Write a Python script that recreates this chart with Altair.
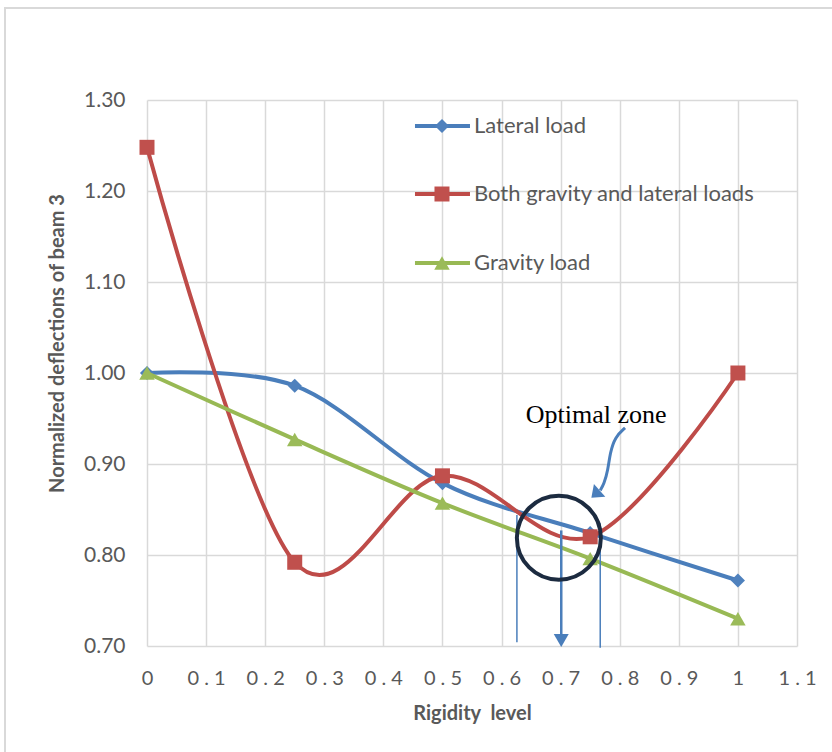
import altair as alt
import pandas as pd

# ---- data ----
rigidity = [0, 0.25, 0.5, 0.75, 1.0]
lateral = [1.000, 0.986, 0.879, 0.824, 0.772]
both = [1.248, 0.792, 0.887, 0.820, 1.000]
gravity = [1.000, 0.927, 0.857, 0.796, 0.730]
series_names = ["Lateral load", "Both gravity and lateral loads", "Gravity load"]

x_ticks = [0, 0.1, 0.2, 0.3, 0.4, 0.5, 0.6, 0.7, 0.8, 0.9, 1.0, 1.1]
y_ticks = [0.7, 0.8, 0.9, 1.0, 1.1, 1.2, 1.3]

# annotation anchors (data coordinates)
zone_label = ["Optimal zone"]
zone_label_xy = [0.760, 0.954]
zone_circle_xy = [0.697, 0.819]
zone_bounds_x = [0.626, 0.767]
zone_bounds_top = [0.844, 0.835]
zone_bounds_bottom = [0.704, 0.698]
optimum_x = [0.701]
optimum_arrow_y = [0.827, 0.712]
optimum_head_y = [0.706]
curve_arrow_x = [0.809, 0.792, 0.7836, 0.780, 0.7734, 0.767]
curve_arrow_y = [0.9396, 0.9297, 0.912, 0.893, 0.878, 0.871]
curve_head_xy = [0.759, 0.867]

# legend anchors (data coordinates)
legend_line_x = [0.4535, 0.5466]
legend_marker_x = [0.4992]
legend_text_x = [0.5534]
legend_y = [1.2714, 1.1967, 1.1209]

colors_line = ["#4A7EBB", "#BE4B48", "#98B954"]
colors_marker = ["#4F81BD", "#C0504D", "#9BBB59"]
shapes = ["diamond", "square", "triangle-up"]
marker_sizes = [200, 225, 240]

GRID = "#d9d9d9"
TXT = "#595959"
FONT = "Lato"

XS = alt.Scale(domain=[0, 1.1], nice=False, zero=False)
YS = alt.Scale(domain=[0.7, 1.3], nice=False, zero=False)

x_axis = alt.Axis(
    values=x_ticks, title="Rigidity\u00a0 level", grid=True, gridColor=GRID, gridWidth=1.5,
    domain=False, ticks=False, tickSize=0, labelPadding=22, labelFlush=False, labelOverlap=False,
    labelFont=FONT, labelFontSize=20, labelColor=TXT,
    labelExpr="replace(format(datum.value, '.1~f'), '.', ' . ')",
    titleFont=FONT, titleFontSize=20, titleFontWeight="bold", titleColor=TXT,
    titleY=67, titleBaseline="middle",
)
y_axis = alt.Axis(
    values=y_ticks, format=".2f", title="Normalized deflections of beam 3", grid=True,
    gridColor=GRID, gridWidth=1.5, domain=False, ticks=False, tickSize=0, labelPadding=22,
    labelFlush=False, labelOverlap=False,
    labelFont=FONT, labelFontSize=21, labelColor=TXT,
    titleFont=FONT, titleFontSize=20, titleFontWeight="bold", titleColor=TXT,
    titleX=-90, titleY=243, titleAlign="center", titleBaseline="middle", titleAngle=270,
)


def X(field):
    return alt.X(field, type="quantitative", scale=XS, axis=x_axis)


def Y(field):
    return alt.Y(field, type="quantitative", scale=YS, axis=y_axis)


frame = alt.Chart(pd.DataFrame({"a": [0]})).mark_rect(
    fillOpacity=0, stroke=GRID, strokeWidth=2
).encode(x=alt.value(-142), x2=alt.value(700), y=alt.value(-92), y2=alt.value(700))

layers = []
for i, vals in enumerate([lateral, both, gravity]):
    df = pd.DataFrame({"x": rigidity, "y": vals})
    line = alt.Chart(df).mark_line(
        interpolate="cardinal", color=colors_line[i], strokeWidth=4
    ).encode(x=X("x"), y=Y("y"))
    pts = alt.Chart(df).mark_point(
        shape=shapes[i], filled=True, size=marker_sizes[i], color=colors_marker[i], opacity=1
    ).encode(x=X("x"), y=Y("y"))
    layers += [line, pts]

# legend
for i, name in enumerate(series_names):
    ldf = pd.DataFrame({"x": [legend_line_x[0]], "x2": [legend_line_x[1]], "y": [legend_y[i]],
                        "mx": legend_marker_x, "tx": legend_text_x, "label": [name]})
    layers.append(alt.Chart(ldf).mark_rule(color=colors_line[i], strokeWidth=4).encode(
        x=X("x"), x2="x2", y=Y("y")))
    layers.append(alt.Chart(ldf).mark_point(
        shape=shapes[i], filled=True, size=marker_sizes[i], color=colors_marker[i], opacity=1
    ).encode(x=X("mx"), y=Y("y")))
    layers.append(alt.Chart(ldf).mark_text(
        align="left", baseline="middle", font=FONT, fontSize=22, color=TXT
    ).encode(x=X("tx"), y=Y("y"), text="label"))

# annotations
bounds = pd.DataFrame({"x": zone_bounds_x, "y": zone_bounds_top, "y2": zone_bounds_bottom})
layers.append(alt.Chart(bounds).mark_rule(color="#4A7EBB", strokeWidth=1.5).encode(
    x=X("x"), y=Y("y"), y2="y2"))

arrow = pd.DataFrame({"x": optimum_x, "y": [optimum_arrow_y[0]], "y2": [optimum_arrow_y[1]],
                      "hy": optimum_head_y})
layers.append(alt.Chart(arrow).mark_rule(color="#4A7EBB", strokeWidth=2.5).encode(
    x=X("x"), y=Y("y"), y2="y2"))
layers.append(alt.Chart(arrow).mark_point(
    shape="triangle-down", filled=True, size=225, color="#4A7EBB", opacity=1
).encode(x=X("x"), y=Y("hy")))

circ = pd.DataFrame({"x": [zone_circle_xy[0]], "y": [zone_circle_xy[1]]})
layers.append(alt.Chart(circ).mark_point(
    shape="circle", filled=False, size=7056, strokeWidth=4, color="#1C2B40", opacity=1
).encode(x=X("x"), y=Y("y")))

curve = pd.DataFrame({"x": curve_arrow_x, "y": curve_arrow_y, "o": list(range(len(curve_arrow_x)))})
layers.append(alt.Chart(curve).mark_line(
    interpolate="basis", color="#4A7EBB", strokeWidth=3
).encode(x=X("x"), y=Y("y"), order="o:Q"))
chead = pd.DataFrame({"x": [curve_head_xy[0]], "y": [curve_head_xy[1]]})
layers.append(alt.Chart(chead).mark_point(
    shape="M-1,-0.65L1,-0.65L0,0.65Z", filled=True, size=289, color="#4A7EBB", opacity=1, angle=48
).encode(x=X("x"), y=Y("y")))

lbl = pd.DataFrame({"x": [zone_label_xy[0]], "y": [zone_label_xy[1]], "t": zone_label})
layers.append(alt.Chart(lbl).mark_text(
    font="Liberation Serif", fontSize=26, color="black", align="center", baseline="middle"
).encode(x=X("x"), y=Y("y"), text="t"))

chart = alt.layer(frame, *layers).properties(
    width=650, height=546,
    padding={"left": 147, "top": 100, "right": 35, "bottom": 106},
    autosize=alt.AutoSizeParams(type="none"),
    background="white",
).configure_view(stroke=None)

chart.save("out.html", embed_options={"renderer": "svg", "actions": False})
